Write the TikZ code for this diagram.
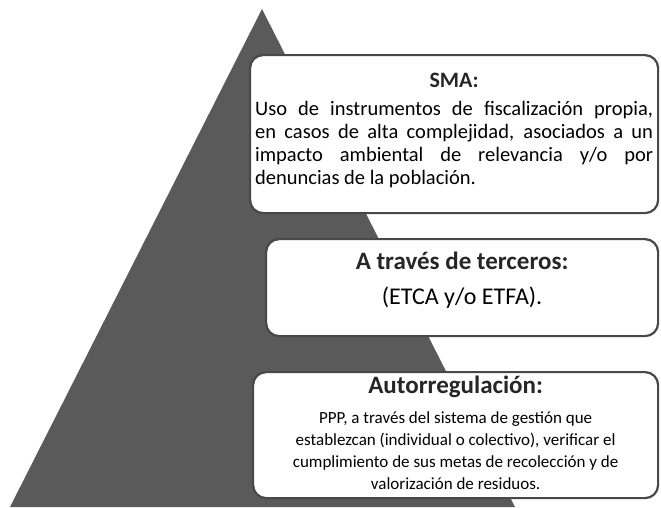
\documentclass[tikz,border=0pt]{standalone}
\usepackage{fontspec}
\setmainfont{Carlito}
\definecolor{pyrgray}{RGB}{90,90,90}
\definecolor{edgegray}{RGB}{72,72,72}
\tikzstyle{level}=[rectangle,rounded corners=13pt,draw=edgegray,line width=2.2pt,
fill=white,anchor=north west,inner sep=0pt]
\tikzstyle{head}=[inner sep=0pt,text=black!85,font=\fontsize{22}{26}\selectfont\bfseries]
\tikzstyle{body}=[inner sep=0pt,align=justify,text width=398pt,
font=\fontsize{20.5}{23}\selectfont]
\tikzstyle{small}=[inner sep=0pt,align=center,font=\fontsize{17}{22}\selectfont]
\usetikzlibrary{positioning}

\begin{document}
\begin{tikzpicture}[x=1pt,y=-1pt]
            \useasboundingbox (0,0) rectangle (661,507);

            % PYRAMID
            \coordinate (apex) at (262,9);
            \coordinate (bl) at (10,507);
            \coordinate (br) at (515,507);
            \fill[pyrgray] (apex) -- (br) -- (bl) -- cycle;

            % SMA PART
            \node[level, minimum width=408pt, minimum height=158pt] (b1) at (249,54) {};
            \node[head, below=19pt of b1.north] (sma) {SMA:};
            \node[body, below=13pt of sma] (smatxt) {Uso de instrumentos de fiscalización propia,\linebreak
              en casos de alta complejidad, asociados a un\linebreak
              impacto ambiental de relevancia y/o por\linebreak
              denuncias de la población.};

            % TERCEROS PART
            \node[level, minimum width=392pt, minimum height=97pt] (b2) at (265,238) {};
            \node[head, font=\fontsize{25}{29}\selectfont\bfseries, below=14pt of b2.north] (terc) {A través de terceros:};
            \node[inner sep=0pt, font=\fontsize{24}{28}\selectfont, below=17pt of terc] (etca) {(ETCA y/o ETFA).};

            % AUTORREGULACION PART
            \node[level, minimum width=405pt, minimum height=126pt] (b3) at (252,371) {};
            \node[head, font=\fontsize{25}{29}\selectfont\bfseries, below=5pt of b3.north] (auto) {Autorregulación:};
            \node[small, below=13pt of auto] (autotxt) {PPP, a través del sistema de gestión que\\
              establezcan (individual o colectivo), verificar el\\
              cumplimiento de sus metas de recolección y de\\
              valorización de residuos.};

\end{tikzpicture}
\end{document}
